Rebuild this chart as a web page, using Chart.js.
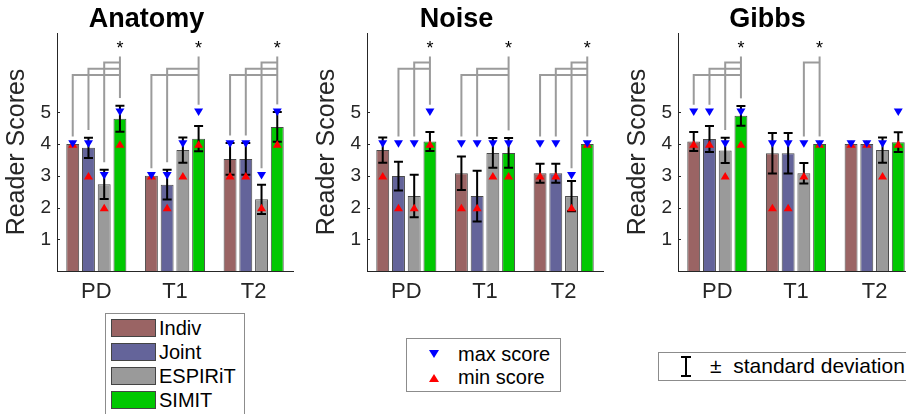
<!DOCTYPE html>
<html><head><meta charset="utf-8">
<script src="https://cdn.jsdelivr.net/npm/chart.js@4/dist/chart.umd.min.js"></script>
<style>
html,body{margin:0;padding:0;background:#fff;width:906px;height:414px;overflow:hidden;font-family:Arial,"Liberation Sans",sans-serif;}
canvas{position:absolute;top:0;}
.box{position:absolute;border:1px solid #8c8c8c;background:#fff;color:#000;box-sizing:border-box;}
.row{position:absolute;font-size:20px;line-height:20px;white-space:nowrap;}
.sw{position:absolute;width:45px;height:18px;border:1px solid #444;box-sizing:border-box;}
.tri{position:absolute;width:0;height:0;}
</style></head>
<body>
<canvas id="c0" width="300" height="310" style="left:0px"></canvas>
<canvas id="c1" width="300" height="310" style="left:310px"></canvas>
<canvas id="c2" width="300" height="310" style="left:621px"></canvas>

<div class="box" id="leg1" style="left:105px;top:313px;width:140px;height:120px;"></div>
<div class="box" style="left:406px;top:338px;width:155px;height:54px;">
  <div class="tri" style="left:22px;top:11px;border-left:5px solid transparent;border-right:5px solid transparent;border-top:8px solid #0000ff;"></div>
  <div class="row" style="left:51px;top:5px;">max score</div>
  <div class="tri" style="left:22px;top:35px;border-left:5px solid transparent;border-right:5px solid transparent;border-bottom:8px solid #ff0000;"></div>
  <div class="row" style="left:51px;top:28px;">min score</div>
</div>
<div class="box" style="left:658px;top:352px;width:300px;height:29px;">
  <div style="position:absolute;left:26px;top:4px;width:2px;height:19px;background:#000;"></div>
  <div style="position:absolute;left:22px;top:3px;width:10px;height:2px;background:#000;"></div>
  <div style="position:absolute;left:22px;top:22px;width:10px;height:2px;background:#000;"></div>
  <div class="row" style="left:51px;top:3px;font-size:21px;">±&nbsp;&nbsp;standard deviation</div>
</div>

<script>
// ---- data ----
const categories = ['PD', 'T1', 'T2'];
const seriesNames = ['Indiv', 'Joint', 'ESPIRiT', 'SIMIT'];
const yTicks = [1, 2, 3, 4, 5];

// [series][category]
const anatomyMean = [[4.0, 3.0, 3.53], [3.88, 2.72, 3.53], [2.73, 3.81, 2.26], [4.8, 4.17, 4.54]];
const anatomySD   = [[0, 0, 0.5], [0.32, 0.47, 0.5], [0.46, 0.4, 0.46], [0.41, 0.4, 0.47]];
const anatomyMax  = [[4, 3, 4], [4, 3, 4], [3, 4, 3], [5, 5, 5]];
const anatomyMin  = [[4, 3, 3], [3, 2, 3], [2, 3, 2], [4, 4, 4]];
const anatomySig  = [[0, 1, 2], [0, 1], [0, 1, 2]];   // per category: series significantly different from SIMIT

const noiseMean = [[3.81, 3.08, 3.08], [2.99, 2.36, 3.08], [2.36, 3.72, 2.36], [4.08, 3.72, 4.0]];
const noiseSD   = [[0.4, 0.53, 0.3], [0.45, 0.8, 0.3], [0.67, 0.47, 0.48], [0.3, 0.47, 0]];
const noiseMax  = [[4, 4, 4], [4, 4, 4], [4, 4, 3], [5, 4, 4]];
const noiseMin  = [[3, 2, 3], [2, 2, 3], [2, 3, 2], [4, 3, 4]];
const noiseSig  = [[1, 2], [0, 1], [0, 1, 2]];

const gibbsMean = [[4.08, 3.71, 4.0], [4.16, 3.71, 4.0], [3.8, 3.08, 3.81], [4.89, 4.0, 4.06]];
const gibbsSD   = [[0.3, 0.64, 0], [0.41, 0.64, 0], [0.4, 0.32, 0.4], [0.31, 0, 0.31]];
const gibbsMax  = [[5, 4, 4], [5, 4, 4], [4, 4, 4], [5, 4, 5]];
const gibbsMin  = [[4, 2, 4], [4, 2, 4], [3, 3, 3], [4, 4, 4]];
const gibbsSig  = [[0, 1, 2], [2], []];

// ---- style ----
const FONT = 'Arial, "Liberation Sans", sans-serif';
const barColors = ['#9a6464', '#64649a', '#9a9a9a', '#00c800'];
const AX = '#262626';

// legend 1 rows
(function(){
  const leg = document.getElementById('leg1');
  seriesNames.forEach((s, i) => {
    const sw = document.createElement('div');
    sw.className = 'sw';
    sw.style.left = '5px'; sw.style.top = (5 + 24 * i) + 'px';
    sw.style.background = barColors[i];
    leg.appendChild(sw);
    const t = document.createElement('div');
    t.className = 'row';
    t.style.left = '53px'; t.style.top = (4 + 24 * i) + 'px';
    t.textContent = s;
    leg.appendChild(t);
  });
})();

function makeOverlay(mean, sd, mx, mn, sig) {
  return {
    id: 'overlay',
    afterDatasetsDraw(chart) {
      const ctx = chart.ctx;
      const ys = chart.scales.y;
      const metas = seriesNames.map((_, i) => chart.getDatasetMeta(i));
      const area = chart.chartArea;
      ctx.save();
      // inside y ticks
      ctx.strokeStyle = AX; ctx.lineWidth = 1;
      yTicks.forEach(v => {
        const py = Math.round(ys.getPixelForValue(v)) + 0.5;
        ctx.beginPath(); ctx.moveTo(area.left, py); ctx.lineTo(area.left + 3, py); ctx.stroke();
      });
      // significance brackets
      const levels = [6.18, 6.37, 6.57];
      const topLevel = 6.76, starLevel = 7.1;
      const s = seriesNames.length - 1;
      const base = (i, c) => Math.max(mean[i][c] + sd[i][c], mx[i][c]) + 0.24;
      ctx.strokeStyle = '#9b9b9b'; ctx.lineWidth = 2; ctx.lineJoin = 'miter';
      categories.forEach((cat, c) => {
        const list = sig[c];
        if (!list || !list.length) return;
        const xs = metas[s].data[c].x;
        list.forEach(i => {
          const xi = metas[i].data[c].x;
          const yl = ys.getPixelForValue(levels[i]);
          ctx.beginPath();
          ctx.moveTo(xi, ys.getPixelForValue(base(i, c)));
          ctx.lineTo(xi, yl);
          ctx.lineTo(xs, yl);
          ctx.stroke();
        });
        ctx.beginPath();
        ctx.moveTo(xs, ys.getPixelForValue(base(s, c)));
        ctx.lineTo(xs, ys.getPixelForValue(topLevel));
        ctx.stroke();
        ctx.fillStyle = '#000';
        ctx.font = '18px ' + FONT;
        ctx.textAlign = 'center'; ctx.textBaseline = 'middle';
        ctx.fillText('*', xs, ys.getPixelForValue(starLevel) + 3);
      });
      // error bars
      ctx.strokeStyle = '#000'; ctx.lineWidth = 2;
      seriesNames.forEach((_, i) => {
        categories.forEach((cat, c) => {
          if (!(sd[i][c] > 0)) return;
          const x = metas[i].data[c].x;
          const y1 = ys.getPixelForValue(mean[i][c] + sd[i][c]);
          const y2 = ys.getPixelForValue(mean[i][c] - sd[i][c]);
          ctx.beginPath();
          ctx.moveTo(x, y1); ctx.lineTo(x, y2);
          ctx.moveTo(x - 4.5, y1); ctx.lineTo(x + 4.5, y1);
          ctx.moveTo(x - 4.5, y2); ctx.lineTo(x + 4.5, y2);
          ctx.stroke();
        });
      });
      // min (red up) then max (blue down)
      const hw = 4.5, hh = 3.75;
      seriesNames.forEach((_, i) => {
        categories.forEach((cat, c) => {
          const x = metas[i].data[c].x;
          const y = ys.getPixelForValue(mn[i][c]);
          ctx.fillStyle = '#ff0000';
          ctx.beginPath();
          ctx.moveTo(x, y - hh); ctx.lineTo(x + hw, y + hh); ctx.lineTo(x - hw, y + hh);
          ctx.closePath(); ctx.fill();
        });
      });
      seriesNames.forEach((_, i) => {
        categories.forEach((cat, c) => {
          const x = metas[i].data[c].x;
          const y = ys.getPixelForValue(mx[i][c]);
          ctx.fillStyle = '#0000ff';
          ctx.beginPath();
          ctx.moveTo(x - hw, y - hh); ctx.lineTo(x + hw, y - hh); ctx.lineTo(x, y + hh);
          ctx.closePath(); ctx.fill();
        });
      });
      ctx.restore();
    }
  };
}

function makeChart(id, title, mean, sd, mx, mn, sig) {
  return new Chart(document.getElementById(id), {
    type: 'bar',
    data: {
      labels: categories,
      datasets: seriesNames.map((s, i) => ({
        label: s,
        data: mean[i],
        backgroundColor: barColors[i],
        borderColor: '#4a4a4a',
        borderWidth: 1,
        categoryPercentage: 0.8,
        barPercentage: 0.82
      }))
    },
    options: {
      responsive: false,
      animation: false,
      devicePixelRatio: 1,
      layout: { padding: { left: 0, right: 7, top: 0, bottom: 0 } },
      plugins: {
        legend: { display: false },
        tooltip: { enabled: false },
        title: {
          display: true, text: title, color: '#000',
          font: { family: FONT, size: 27, weight: 'bold', lineHeight: 1 },
          padding: { top: 6, bottom: 0 }
        }
      },
      scales: {
        x: {
          grid: { display: false, drawTicks: false },
          border: { display: true, color: AX, width: 1 },
          ticks: { font: { family: FONT, size: 22 }, color: AX, padding: 8 },
          afterFit(s) { s.height = 39; }
        },
        y: {
          min: 0, max: 7.5,
          grid: { display: false, drawTicks: false },
          border: { display: true, color: AX, width: 1 },
          ticks: { font: { family: FONT, size: 19 }, color: AX, padding: 6 },
          afterBuildTicks(s) { s.ticks = yTicks.map(v => ({ value: v })); },
          afterFit(s) { s.width = 57; },
          title: {
            display: true, text: 'Reader Scores', color: AX,
            font: { family: FONT, size: 25 },
            padding: { top: 2, bottom: 0 }
          }
        }
      }
    },
    plugins: [makeOverlay(mean, sd, mx, mn, sig)]
  });
}

makeChart('c0', 'Anatomy', anatomyMean, anatomySD, anatomyMax, anatomyMin, anatomySig);
makeChart('c1', 'Noise', noiseMean, noiseSD, noiseMax, noiseMin, noiseSig);
makeChart('c2', 'Gibbs', gibbsMean, gibbsSD, gibbsMax, gibbsMin, gibbsSig);
</script>
</body></html>
